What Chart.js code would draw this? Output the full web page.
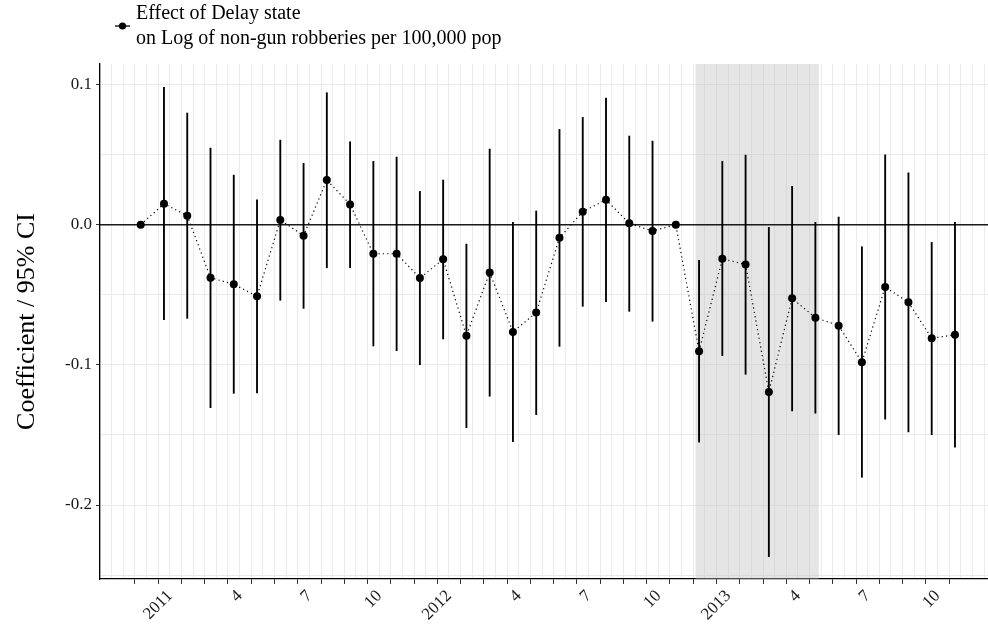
<!DOCTYPE html>
<html>
<head>
<meta charset="utf-8">
<script src="https://cdn.jsdelivr.net/npm/chart.js@4.4.1/dist/chart.umd.min.js"></script>
<style>
  html, body { margin: 0; padding: 0; background: #fff; }
  #wrap { width: 988px; height: 624px; }
</style>
</head>
<body>
<div id="wrap"><canvas id="c" width="988" height="624"></canvas></div>
<script>
// Monthly periods, Dec 2010 .. Nov 2013 (index 0 is the reference month)
const months = [
  '2010-12',
  '2011-01','2011-02','2011-03','2011-04','2011-05','2011-06','2011-07','2011-08','2011-09','2011-10','2011-11','2011-12',
  '2012-01','2012-02','2012-03','2012-04','2012-05','2012-06','2012-07','2012-08','2012-09','2012-10','2012-11','2012-12',
  '2013-01','2013-02','2013-03','2013-04','2013-05','2013-06','2013-07','2013-08','2013-09','2013-10','2013-11'
];

// Axis labels shown under the monthly ticks
const xTickLabels = [
  '', '2011', '', '', '4', '', '', '7', '', '', '10', '', '',
  '2012', '', '', '4', '', '', '7', '', '', '10', '', '',
  '2013', '', '', '4', '', '', '7', '', '', '10', ''
];
const yTickLabels = [0.1, 0.0, -0.1, -0.2];

// Point estimates and 95% confidence bounds
const coef = [
  0, 0.0150, 0.0064, -0.0378, -0.0425, -0.0511, 0.0034, -0.0078, 0.0319, 0.0145, -0.0207, -0.0207,
  -0.0380, -0.0247, -0.0792, -0.0340, -0.0765, -0.0627, -0.0093, 0.0093, 0.0178, 0.0010, -0.0045, 0,
  -0.0903, -0.0243, -0.0283, -0.1193, -0.0525, -0.0663, -0.0720, -0.0981, -0.0444, -0.0554, -0.0810, -0.0785
];
const ciLow = [
  0, -0.0678, -0.0668, -0.1305, -0.1203, -0.1200, -0.0539, -0.0597, -0.0307, -0.0307, -0.0865, -0.0899,
  -0.0999, -0.0815, -0.1448, -0.1224, -0.1548, -0.1355, -0.0868, -0.0582, -0.0549, -0.0618, -0.0689, 0,
  -0.1552, -0.0934, -0.1067, -0.2368, -0.1329, -0.1345, -0.1498, -0.1802, -0.1388, -0.1479, -0.1498, -0.1588
];
const ciHigh = [
  0, 0.0980, 0.0797, 0.0547, 0.0354, 0.0178, 0.0604, 0.0438, 0.0942, 0.0592, 0.0452, 0.0483,
  0.0238, 0.0319, -0.0138, 0.0540, 0.0017, 0.0098, 0.0680, 0.0766, 0.0904, 0.0633, 0.0597, 0,
  -0.0254, 0.0452, 0.0497, -0.0019, 0.0274, 0.0017, 0.0055, -0.0157, 0.0499, 0.0371, -0.0126, 0.0017
];

// Shaded window (in month-index units)
const shadedWindow = [23.85, 29.15];

const legendLines = ['Effect of Delay state', 'on Log of non-gun robberies per 100,000 pop'];
const yTitle = 'Coefficient / 95% CI';

const FONT = '"Liberation Serif", "DejaVu Serif", serif';
Chart.defaults.font.family = FONT;

const isMonthTick = v => Number.isInteger(v) && v >= 0 && v < months.length;
const isMajorY = v => yTickLabels.some(t => Math.abs(t - v) < 1e-9);

const backdrop = {
  id: 'backdrop',
  beforeDatasetsDraw(chart) {
    const { ctx, chartArea: a, scales: { x, y } } = chart;
    ctx.save();
    const x0 = x.getPixelForValue(shadedWindow[0]);
    const x1 = x.getPixelForValue(shadedWindow[1]);
    ctx.fillStyle = 'rgba(190,190,190,0.4)';
    ctx.fillRect(x0, a.top, x1 - x0, a.bottom - a.top);
    const yz = y.getPixelForValue(0);
    ctx.strokeStyle = '#1a1a1a';
    ctx.lineWidth = 1.3;
    ctx.beginPath();
    ctx.moveTo(a.left, yz);
    ctx.lineTo(a.right, yz);
    ctx.stroke();
    ctx.restore();
  }
};

const keyBox = {
  id: 'keyBox',
  afterDraw(chart) {
    const { ctx } = chart;
    ctx.save();
    ctx.strokeStyle = '#000';
    ctx.lineWidth = 1.3;
    ctx.beginPath();
    ctx.moveTo(115, 26);
    ctx.lineTo(130, 26);
    ctx.stroke();
    ctx.fillStyle = '#000';
    ctx.beginPath();
    ctx.arc(122.5, 26, 3.6, 0, Math.PI * 2);
    ctx.fill();
    ctx.font = '20px ' + FONT;
    ctx.textBaseline = 'middle';
    ctx.textAlign = 'left';
    ctx.fillText(legendLines[0], 136, 14);
    ctx.fillText(legendLines[1], 136, 39);
    ctx.restore();
  }
};

new Chart(document.getElementById('c'), {
  data: {
    datasets: [
      {
        type: 'line',
        label: legendLines.join(' '),
        data: coef.map((v, i) => ({ x: i, y: v })),
        borderColor: '#000',
        borderWidth: 1.2,
        borderDash: [1.2, 3.2],
        pointRadius: 4,
        pointBackgroundColor: '#000',
        pointBorderWidth: 0,
        fill: false,
        tension: 0,
        order: 0
      },
      {
        type: 'bar',
        label: '95% CI',
        data: ciLow.map((lo, i) => ({ x: i, y: [lo, ciHigh[i]] })),
        backgroundColor: '#000',
        borderWidth: 0,
        barThickness: 1.2,
        order: 1
      }
    ]
  },
  options: {
    responsive: false,
    animation: false,
    devicePixelRatio: 1,
    layout: { autoPadding: false, padding: { left: 0, top: 64, right: 0, bottom: 0 } },
    plugins: {
      legend: { display: false },
      tooltip: { enabled: false }
    },
    scales: {
      x: {
        type: 'linear',
        min: -1.75,
        max: 36.42,
        offset: false,
        afterBuildTicks(scale) {
          const t = [];
          for (let k = -3; k <= 72; k++) t.push({ value: k / 2 });
          scale.ticks = t;
        },
        afterFit(scale) {
          scale.height = 45;
          scale.paddingLeft = 0;
          scale.paddingRight = 0;
        },
        ticks: {
          autoSkip: false,
          maxRotation: 45,
          minRotation: 45,
          padding: 2,
          labelOffset: 6,
          color: '#1a1a1a',
          font: { size: 17 },
          callback: v => (isMonthTick(v) ? xTickLabels[v] : '')
        },
        grid: {
          color: '#ebebeb',
          lineWidth: 1,
          tickLength: 5,
          tickColor: ctx => (ctx.tick && isMonthTick(ctx.tick.value) ? '#333' : 'rgba(0,0,0,0)')
        },
        border: { display: true, color: '#000', width: 1.3 }
      },
      y: {
        type: 'linear',
        min: -0.2528,
        max: 0.1147,
        afterBuildTicks(scale) {
          const t = [];
          for (let k = -5; k <= 2; k++) t.push({ value: k * 0.05 });
          scale.ticks = t;
        },
        afterFit(scale) {
          scale.width = 100;
          scale.paddingTop = 0;
          scale.paddingBottom = 0;
        },
        ticks: {
          padding: 4,
          color: '#1a1a1a',
          font: { size: 17 },
          callback: v => (isMajorY(v) ? (Math.abs(v) < 1e-9 ? 0 : v).toFixed(1) : '')
        },
        grid: {
          color: '#ebebeb',
          lineWidth: 1,
          tickLength: 4,
          tickColor: ctx => (ctx.tick && isMajorY(ctx.tick.value) ? '#333' : 'rgba(0,0,0,0)')
        },
        border: { display: true, color: '#000', width: 1.3 },
        title: {
          display: true,
          text: yTitle,
          color: '#000',
          font: { size: 26 },
          padding: { top: 12, bottom: 0 }
        }
      }
    }
  },
  plugins: [backdrop, keyBox]
});
</script>
</body>
</html>
